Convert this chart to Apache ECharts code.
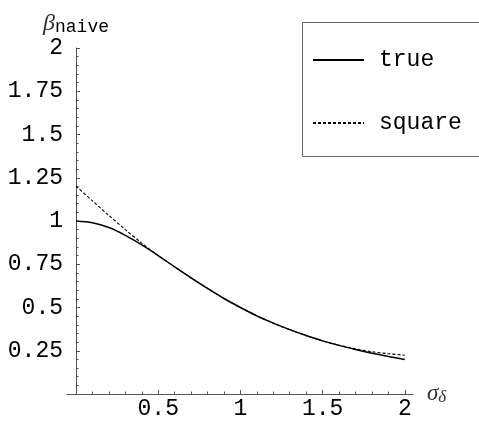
<!DOCTYPE html>
<html>
<head>
<meta charset="utf-8">
<script src="https://cdn.jsdelivr.net/npm/echarts@6/dist/echarts.min.js"></script>
<style>html,body{margin:0;padding:0;background:#fff}#c{width:479px;height:422px}</style>
</head>
<body>
<div id="c"></div>
<script>
const sigma = [0, 0.1, 0.2, 0.3, 0.4, 0.5, 0.6, 0.7, 0.8, 0.9, 1.0, 1.1, 1.2, 1.3, 1.4, 1.5, 1.6, 1.7, 1.8, 1.9, 2.0];
const trueVals = [1.0, 0.99, 0.962, 0.917, 0.862, 0.80, 0.735, 0.671, 0.61, 0.552, 0.50, 0.452, 0.41, 0.372, 0.338, 0.307, 0.281, 0.257, 0.236, 0.217, 0.20];
const squareVals = [1.202, 1.116, 1.032, 0.95, 0.872, 0.80, 0.735, 0.671, 0.61, 0.552, 0.50, 0.452, 0.41, 0.372, 0.338, 0.307, 0.282, 0.261, 0.244, 0.233, 0.224];
const xLabelValues = [0.5, 1, 1.5, 2];
const xMajorTicks = [0.5, 1, 1.5, 2];
const xMinorTicks = [0.1, 0.2, 0.3, 0.4, 0.6, 0.7, 0.8, 0.9, 1.1, 1.2, 1.3, 1.4, 1.6, 1.7, 1.8, 1.9];

const mono = 'Liberation Mono';
const axisColor = '#555';
const fs = 23;

const chart = echarts.init(document.getElementById('c'), null, {renderer: 'canvas'});
chart.setOption({
  animation: false,
  backgroundColor: '#fff',
  grid: {left: 67, right: 66, top: 48, bottom: 28, containLabel: false},
  graphic: {
    elements: [{
      type: 'polyline', z: 100, silent: true,
      shape: {points: [[490, 22.5], [302.5, 22.5], [302.5, 156.5], [490, 156.5]]},
      style: {fill: null, stroke: '#666', lineWidth: 1}
    }]
  },
  legend: {
    orient: 'vertical', left: 302, top: 22, z: 10,
    padding: [26, 10, 22, 10],
    borderWidth: 0, backgroundColor: 'transparent',
    itemWidth: 51, itemHeight: 14, itemGap: 39,
    itemStyle: {opacity: 0},
    textStyle: {fontFamily: mono, fontSize: fs, color: '#000', lineHeight: 24, padding: [0, 0, 0, 10]},
    data: ['true', 'square']
  },
  xAxis: [{
    type: 'value', min: -0.055, max: 2.05,
    splitLine: {show: false},
    axisLine: {onZero: false, lineStyle: {color: axisColor, width: 1}},
    axisTick: {inside: true, length: 4, customValues: xMajorTicks, lineStyle: {color: axisColor}},
    axisLabel: {customValues: xLabelValues, margin: 3, fontFamily: mono, fontSize: fs, color: '#000'},
    name: '{b|σ}{s|δ}', nameLocation: 'end', nameGap: 14,
    nameTextStyle: {rich: {
      b: {fontFamily: 'Liberation Serif', fontStyle: 'italic', fontSize: 23, color: '#333'},
      s: {fontFamily: 'Liberation Serif', fontStyle: 'italic', fontSize: 17, color: '#333', padding: [8, 0, 0, 0]}
    }}
  }, {
    type: 'value', min: -0.055, max: 2.05, position: 'bottom',
    splitLine: {show: false},
    axisLine: {show: false, onZero: false},
    axisTick: {inside: true, length: 2.5, customValues: xMinorTicks, lineStyle: {color: axisColor}},
    axisLabel: {show: false}
  }],
  yAxis: {
    type: 'value', min: 0, max: 2, interval: 0.25,
    splitLine: {show: false},
    axisLine: {onZero: true, onZeroAxisIndex: 0, lineStyle: {color: axisColor, width: 1}},
    axisTick: {inside: true, length: 4, lineStyle: {color: axisColor}},
    minorTick: {show: true, splitNumber: 5, length: 2.5, lineStyle: {color: axisColor}},
    axisLabel: {margin: 4, fontFamily: mono, fontSize: fs, color: '#000',
      formatter: v => v === 0 ? '' : String(v)},
    name: '{b|β}{s|naive}', nameLocation: 'end', nameGap: 10,
    nameTextStyle: {align: 'center', rich: {
      b: {fontFamily: 'Liberation Serif', fontStyle: 'italic', fontSize: 24, color: '#333'},
      s: {fontFamily: mono, fontSize: 18, color: '#000', padding: [8, 0, 0, 0]}
    }}
  },
  series: [{
    name: 'true', type: 'line', xAxisIndex: 0, symbol: 'none', smooth: 0.3,
    lineStyle: {color: '#000', width: 1.5, type: 'solid'},
    itemStyle: {color: '#000'},
    data: sigma.map((s, i) => [s, trueVals[i]])
  }, {
    name: 'square', type: 'line', xAxisIndex: 0, symbol: 'none', smooth: 0.3,
    lineStyle: {color: '#000', width: 1.1, type: [3, 2]},
    itemStyle: {color: '#000'},
    data: sigma.map((s, i) => [s, squareVals[i]])
  }]
});
</script>
</body>
</html>
